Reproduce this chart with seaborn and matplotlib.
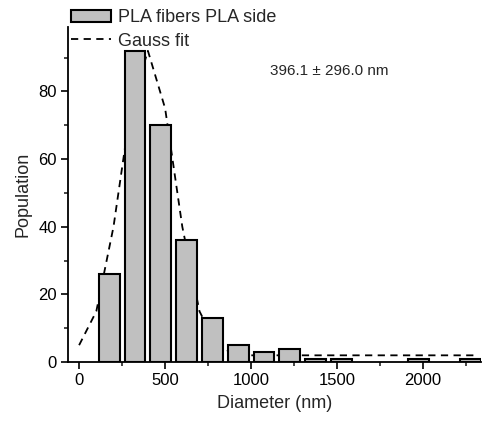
import matplotlib
matplotlib.use("Agg")
import matplotlib.pyplot as plt
import seaborn as sns
import numpy as np
from matplotlib.patches import Patch
from matplotlib.lines import Line2D
from matplotlib.ticker import MultipleLocator

bin_centers = [175, 325, 475, 625, 775, 925, 1075, 1225, 1375, 1525, 1975, 2275]
counts = [26, 92, 70, 36, 13, 5, 3, 4, 1, 1, 1, 1]

fit_x = [0, 100, 200, 300, 400, 500, 600, 700, 800, 900, 1000, 1200, 1400, 1600, 1800, 2000, 2200, 2300]
fit_y = [5, 15, 40, 75, 92, 75, 40, 15, 5, 2.5, 2, 2, 2, 2, 2, 2, 2, 2]

annotation = "396.1 ± 296.0 nm"

sns.set_style("ticks")
plt.rcParams['font.family'] = ['Liberation Sans', 'DejaVu Sans']

fig = plt.figure(figsize=(4.83, 4.24), dpi=100)
ax = fig.add_axes([0.141, 0.146, 0.855, 0.79])

sns.lineplot(x=fit_x, y=fit_y, ax=ax, color='black', linestyle=(0, (4, 3)),
             linewidth=1.3, zorder=1)
sns.barplot(x=bin_centers, y=counts, ax=ax, native_scale=True, width=0.8,
            color='#c0c0c0', saturation=1, edgecolor='black', linewidth=1.5,
            zorder=2)

ax.set_xlim(-64, 2337)
ax.set_ylim(0, 99)
ax.xaxis.set_major_locator(MultipleLocator(500))
ax.xaxis.set_minor_locator(MultipleLocator(250))
ax.yaxis.set_major_locator(MultipleLocator(20))
ax.yaxis.set_minor_locator(MultipleLocator(10))
ax.tick_params(which='major', direction='out', length=5, width=1.2, labelsize=12,
               colors='black', pad=3)
ax.tick_params(which='minor', direction='out', length=3, width=1.2)
for s in ['top', 'right']:
    ax.spines[s].set_visible(False)
for s in ['left', 'bottom']:
    ax.spines[s].set_linewidth(1.3)
    ax.spines[s].set_color('black')

ax.set_xlabel("Diameter (nm)", fontsize=13, labelpad=5)
ax.set_ylabel("Population", fontsize=13, labelpad=5)

ax.text(1110, 86, annotation, fontsize=11, va='center', ha='left')

handles = [Patch(facecolor='#c0c0c0', edgecolor='black', linewidth=1.5),
           Line2D([0], [0], color='black', linestyle=(0, (4, 3)), linewidth=1.3)]
fig.legend(handles, ["PLA fibers PLA side", "Gauss fit"], loc='upper left',
           bbox_to_anchor=(0.133, 0.995), frameon=False, fontsize=13,
           handlelength=2.2, handletextpad=0.35, labelspacing=0.35, borderaxespad=0)

fig.savefig("out.png", dpi=100)
